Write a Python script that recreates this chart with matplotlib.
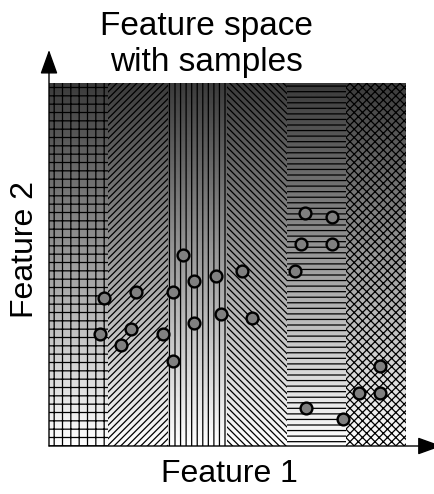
import numpy as np
import matplotlib
matplotlib.use("Agg")
import matplotlib.pyplot as plt

plt.rcParams['font.family'] = ['Liberation Sans', 'DejaVu Sans']
plt.rcParams['hatch.linewidth'] = 0.9

# Regions (feature-1 bands) and their hatch textures
region_edges = [0, 1, 2, 3, 4, 5, 6]
region_hatches = ['++', '/////', '|||', '\\\\\\\\\\', '---', 'xxxx']

# Samples (feature 1, feature 2)
sample_x = [0.85, 0.92, 1.21, 1.38, 1.47, 1.91, 2.09, 2.09, 2.26, 2.44,
            2.44, 2.80, 2.89, 3.25, 3.42, 4.13, 4.24, 4.31, 4.32, 4.75,
            4.76, 4.94, 5.21, 5.56, 5.56]
sample_y = [1.85, 2.45, 1.67, 1.93, 2.55, 1.85, 2.54, 1.41, 3.16, 2.72,
            2.03, 2.81, 2.19, 2.89, 2.11, 2.90, 3.34, 3.85, 0.62, 3.78,
            3.34, 0.45, 0.88, 1.32, 0.88]

title = "Feature space\nwith samples"
xlabel = "Feature 1"
ylabel = "Feature 2"

W, H = 435, 494
fig = plt.figure(figsize=(W / 100, H / 100), dpi=100)
ax = fig.add_axes([49 / W, (H - 446) / H, 357 / W, 363 / H])

# vertical gradient background (dark top -> white bottom)
grad = np.linspace(1.0, 0.23, 256).reshape(-1, 1)
ax.imshow(grad, cmap='gray', vmin=0, vmax=1, aspect='auto',
          extent=[region_edges[0], region_edges[-1], 0, 6], origin='lower',
          interpolation='bilinear', zorder=0)

for i, h in enumerate(region_hatches):
    ax.bar(region_edges[i], 6, width=region_edges[i + 1] - region_edges[i],
           bottom=0, align='edge', facecolor='none', edgecolor='black',
           linewidth=0, hatch=h, zorder=1)

ax.plot(sample_x, sample_y, 'o', markersize=8.5, markerfacecolor='#808080',
        markeredgecolor='black', markeredgewidth=1.7, zorder=3, clip_on=False)

ax.set_xlim(0, 6)
ax.set_ylim(0, 6)
for s in ax.spines.values():
    s.set_visible(False)
ax.set_xticks([])
ax.set_yticks([])

# axes with arrow heads
arrow = dict(arrowstyle='-|>,head_length=1.5,head_width=0.54', mutation_scale=10,
             lw=1.0, color='black', shrinkA=0, shrinkB=0)
ax.annotate('', xy=(0, 1.091), xytext=(0, 0), xycoords='axes fraction',
            textcoords='axes fraction', arrowprops=arrow, annotation_clip=False)
ax.annotate('', xy=(1.10, 0), xytext=(0, 0), xycoords='axes fraction',
            textcoords='axes fraction', arrowprops=arrow, annotation_clip=False)

fig.text(206 / W, (H - 78) / H, title, ha='center', va='bottom', fontsize=24,
         linespacing=1.2)
fig.text(229 / W, (H - 482) / H, xlabel, ha='center', va='baseline', fontsize=23)
fig.text(33 / W, (H - 250) / H, ylabel, ha='center', va='baseline', fontsize=23,
         rotation=90, rotation_mode='anchor')

fig.savefig('out.png', dpi=100)
